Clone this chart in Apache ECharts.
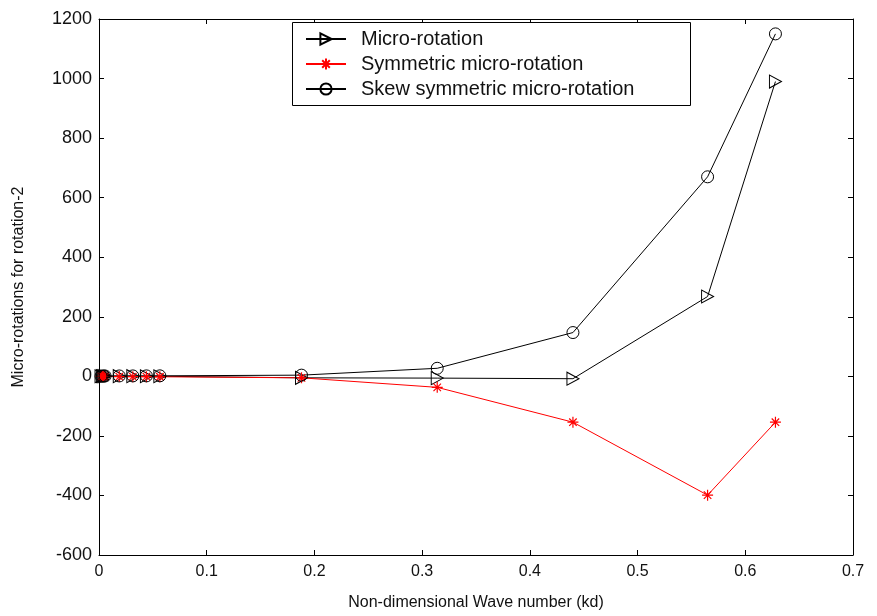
<!DOCTYPE html>
<html>
<head>
<meta charset="utf-8">
<script src="https://cdn.jsdelivr.net/npm/echarts@6/dist/echarts.min.js"></script>
<style>
  html, body { margin: 0; padding: 0; background: #fff; }
  #chart { width: 877px; height: 616px; }
</style>
</head>
<body>
<div id="chart"></div>
<script>
// Non-dimensional wave number kd at which the micro-rotations were evaluated
const waveNumbers = [0.00188, 0.00314, 0.0044, 0.00565, 0.0188, 0.0314, 0.044, 0.0565, 0.188, 0.314, 0.44, 0.565, 0.628];

// Micro-rotation amplitudes for rotation-2
const microRotation = [0.3, 0.4, 0.5, 0.6, 0.5, 0.4, 0.3, 0.2, -5, -6, -8, 268, 990];
const symmetricMicroRotation = [-0.3, -0.4, -0.5, -0.6, -0.8, -1, -1.2, -1.5, -5, -37, -154, -399, -154];
const skewSymmetricMicroRotation = [0.6, 0.8, 1, 1.2, 1.3, 1.4, 1.5, 1.7, 4, 27, 147, 670, 1150];

const seriesNames = ['Micro-rotation', 'Symmetric micro-rotation', 'Skew symmetric micro-rotation'];

// Tick settings
const xTicks = { min: 0, max: 0.7, interval: 0.1 };
const yTicks = { min: -600, max: 1200, interval: 200 };

const pairs = ys => waveNumbers.map((x, i) => [x, ys[i]]);
const FONT = '"Liberation Sans", Arial, sans-serif';
const ASTERISK = 'path://M5,0L5,10M0,5L10,5M1.6,1.6L8.4,8.4M1.6,8.4L8.4,1.6';

const chart = echarts.init(document.getElementById('chart'));

const frameAxis = (extra) => Object.assign({
  type: 'value',
  axisLine: { show: true, onZero: false, lineStyle: { color: '#000', width: 1 } },
  axisTick: { show: true, inside: true, length: 5, lineStyle: { color: '#000' } },
  splitLine: { show: false }
}, extra);

chart.setOption({
  animation: false,
  backgroundColor: '#fff',
  grid: { left: 99, right: 24, top: 19, bottom: 60, containLabel: false },
  // legend frame drawn separately so it keeps a fixed width
  graphic: [{
    type: 'rect',
    left: 292, top: 22, z: 100,
    shape: { width: 398, height: 83 },
    style: { fill: '#fff', stroke: '#000', lineWidth: 1 }
  }],
  legend: {
    orient: 'vertical',
    left: 292,
    top: 22,
    z: 110,
    padding: [7, 10, 8, 13],
    itemWidth: 40,
    itemHeight: 14,
    itemGap: 5,
    textStyle: { fontFamily: FONT, fontSize: 20, color: '#111', padding: [0, 0, 0, 10] },
    data: seriesNames
  },
  xAxis: [
    frameAxis({
      position: 'bottom',
      min: xTicks.min, max: xTicks.max, interval: xTicks.interval,
      name: 'Non-dimensional Wave number (kd)',
      nameLocation: 'middle',
      nameGap: 40,
      nameTextStyle: { fontFamily: FONT, fontSize: 16, color: '#111' },
      axisLabel: { fontFamily: FONT, fontSize: 16, color: '#111', margin: 9 }
    }),
    frameAxis({
      position: 'top',
      min: xTicks.min, max: xTicks.max, interval: xTicks.interval,
      axisLabel: { show: false }
    })
  ],
  yAxis: [
    frameAxis({
      position: 'left',
      min: yTicks.min, max: yTicks.max, interval: yTicks.interval,
      name: 'Micro-rotations for rotation-2',
      nameLocation: 'middle',
      nameGap: 72,
      nameTextStyle: { fontFamily: FONT, fontSize: 16, color: '#111' },
      axisLabel: { fontFamily: FONT, fontSize: 18, color: '#111', margin: 7, formatter: v => String(v) }
    }),
    frameAxis({
      position: 'right',
      min: yTicks.min, max: yTicks.max, interval: yTicks.interval,
      axisLabel: { show: false }
    })
  ],
  series: [
    {
      name: seriesNames[0],
      type: 'line',
      data: pairs(microRotation),
      symbol: 'triangle',
      symbolRotate: -90,
      symbolSize: [13, 12],
      showAllSymbol: true,
      lineStyle: { color: '#000', width: 1 },
      itemStyle: { color: 'rgba(255,255,255,0)', borderColor: '#000', borderWidth: 1 }
    },
    {
      name: seriesNames[1],
      type: 'line',
      data: pairs(symmetricMicroRotation),
      symbol: ASTERISK,
      symbolSize: 11,
      showAllSymbol: true,
      lineStyle: { color: '#ff0000', width: 1 },
      itemStyle: { color: '#ff0000', borderColor: '#ff0000', borderWidth: 1.2 }
    },
    {
      name: seriesNames[2],
      type: 'line',
      data: pairs(skewSymmetricMicroRotation),
      symbol: 'circle',
      symbolSize: 12,
      showAllSymbol: true,
      lineStyle: { color: '#000', width: 1 },
      itemStyle: { color: 'rgba(255,255,255,0)', borderColor: '#000', borderWidth: 1 }
    }
  ]
});
</script>
</body>
</html>
